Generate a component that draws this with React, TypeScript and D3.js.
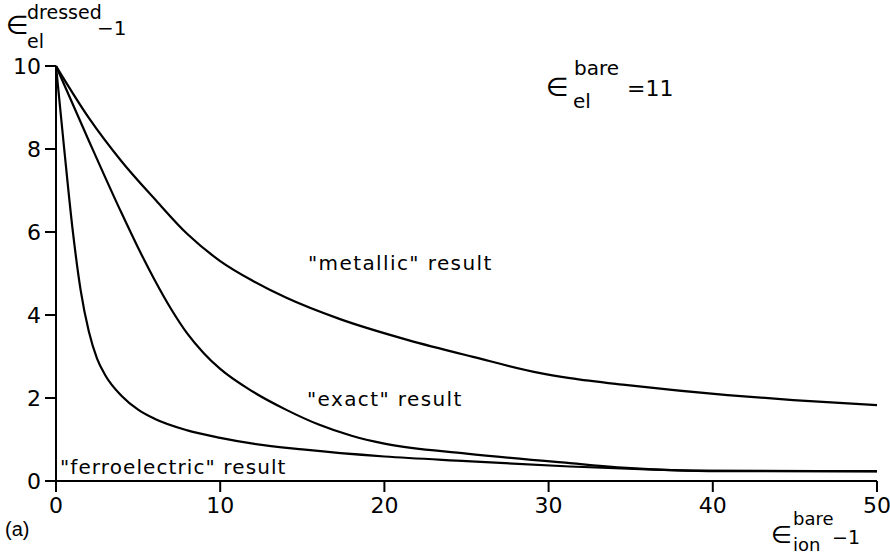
import React from "react";
import * as d3 from "d3";

const metallicX = [0, 2, 4, 6, 8, 10, 12, 14, 17.3, 21.4, 25.4, 29.5, 31.3, 34.8, 40.9, 44.9, 50];
const metallicY = [10, 8.75, 7.7, 6.8, 5.95, 5.3, 4.82, 4.42, 3.9, 3.4, 2.99, 2.6, 2.48, 2.31, 2.07, 1.95, 1.83];

const exactX = [0, 2, 4, 5, 6, 7, 8, 9, 10, 12, 14, 16, 18, 20, 25, 31.3, 35, 38.8, 50];
const exactY = [10, 8.2, 6.45, 5.62, 4.85, 4.15, 3.55, 3.08, 2.7, 2.15, 1.72, 1.36, 1.09, 0.9, 0.66, 0.43, 0.31, 0.25, 0.23];

const ferroX = [0, 0.5, 1, 1.5, 2, 2.5, 3, 4, 5, 6, 8, 10, 12, 15, 20, 25, 31.3, 36, 40, 50];
const ferroY = [10, 8.0, 6.1, 4.6, 3.6, 2.95, 2.55, 2.05, 1.72, 1.5, 1.22, 1.04, 0.9, 0.76, 0.59, 0.48, 0.35, 0.28, 0.24, 0.24];

const xTicks = [0, 10, 20, 30, 40, 50];
const yTicks = [0, 2, 4, 6, 8, 10];

const FONT = "DejaVu Sans";

export default function App() {
  const x = d3.scaleLinear().domain([0, 50]).range([56, 877]);
  const y = d3.scaleLinear().domain([0, 10]).range([481, 66]);
  const line = d3
    .line<[number, number]>()
    .x((d) => x(d[0]))
    .y((d) => y(d[1]))
    .curve(d3.curveMonotoneX);
  const series = [
    d3.zip(metallicX, metallicY) as [number, number][],
    d3.zip(exactX, exactY) as [number, number][],
    d3.zip(ferroX, ferroY) as [number, number][],
  ];
  const txt = { fontFamily: FONT, fill: "#000" } as const;
  return (
    <svg
      width={890}
      height={557}
      style={{ position: "absolute", left: 0, top: 0, background: "#fff" }}
    >
      <rect width={890} height={557} fill="#fff" />
      {/* axes */}
      <line x1={x(0)} x2={x(50)} y1={y(0)} y2={y(0)} stroke="#000" strokeWidth={2} />
      <line x1={x(0)} x2={x(0)} y1={y(0)} y2={y(10)} stroke="#000" strokeWidth={2} />
      {xTicks.map((t) => (
        <g key={"xt" + t}>
          <line x1={x(t)} x2={x(t)} y1={y(0)} y2={y(0) + 11} stroke="#000" strokeWidth={2} />
          <text x={x(t)} y={513} textAnchor="middle" fontSize={22} {...txt}>
            {t}
          </text>
        </g>
      ))}
      {yTicks.map((t) => (
        <g key={"yt" + t}>
          <line x1={x(0) - 11} x2={x(0)} y1={y(t)} y2={y(t)} stroke="#000" strokeWidth={2} />
          <text x={41} y={y(t) + 8} textAnchor="end" fontSize={22} {...txt}>
            {t}
          </text>
        </g>
      ))}
      {series.map((s, i) => (
        <path key={i} d={line(s) || ""} fill="none" stroke="#000" strokeWidth={2.2} />
      ))}
      {/* y label */}
      <text x={6} y={34} fontSize={26} {...txt}>∈</text>
      <text x={27} y={19} fontSize={19} {...txt}>dressed</text>
      <text x={27} y={48} fontSize={19} {...txt}>el</text>
      <text x={97} y={35} fontSize={20} {...txt}>−1</text>
      {/* top-right annotation */}
      <text x={546} y={96} fontSize={26} {...txt}>∈</text>
      <text x={574} y={75} fontSize={20} {...txt}>bare</text>
      <text x={573} y={108} fontSize={20} {...txt}>el</text>
      <text x={627} y={96} fontSize={22} {...txt}>=11</text>
      {/* curve labels */}
      <text x={308} y={270} fontSize={20} letterSpacing={1.4} {...txt}>"metallic" result</text>
      <text x={307} y={406} fontSize={20} letterSpacing={1.4} {...txt}>"exact" result</text>
      <text x={60} y={474} fontSize={20} letterSpacing={1.1} {...txt}>"ferroelectric" result</text>
      {/* x label */}
      <text x={771} y={543} fontSize={24} {...txt}>∈</text>
      <text x={793} y={525} fontSize={18} {...txt}>bare</text>
      <text x={793} y={551} fontSize={18} {...txt}>ion</text>
      <text x={832} y={544} fontSize={19} {...txt}>−1</text>
      <text x={5} y={536} fontSize={20} fontFamily="Liberation Sans" fill="#000">(a)</text>
    </svg>
  );
}
